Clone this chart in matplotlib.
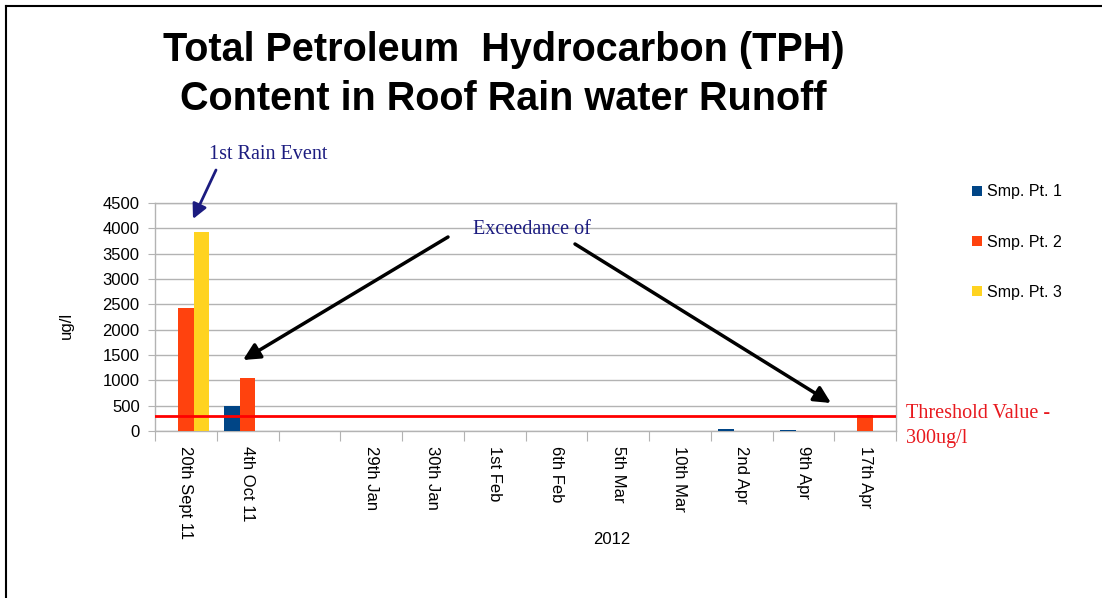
import numpy as np
import matplotlib
matplotlib.use("Agg")
import matplotlib.pyplot as plt
from matplotlib.patches import Patch
from matplotlib.lines import Line2D

# ---- data -------------------------------------------------------------
dates = ["20th Sept 11", "4th Oct 11", "", "29th Jan", "30th Jan", "1st Feb",
         "6th Feb", "5th Mar", "10th Mar", "2nd Apr", "9th Apr", "17th Apr"]
series_names = ["Smp. Pt. 1", "Smp. Pt. 2", "Smp. Pt. 3"]
smp_pt_1 = [0, 490, 0, 0, 0, 0, 0, 0, 0, 45, 25, 0]
smp_pt_2 = [2420, 1045, 0, 0, 0, 0, 0, 0, 0, 0, 0, 315]
smp_pt_3 = [3930, 0, 0, 0, 0, 0, 0, 0, 0, 0, 0, 0]
threshold = 300
y_ticks = list(range(0, 5000, 500))

colors = ["#004586", "#ff420e", "#ffd320"]

W, H = 1102, 598
plt.rcParams["font.family"] = ["Liberation Sans", "DejaVu Sans"]
fig = plt.figure(figsize=(W / 100, H / 100), dpi=100)
fig.patch.set_facecolor("white")


def fxy(x, y):
    """Pixel position (from top-left) to figure fraction."""
    return (x / W, 1 - y / H)


ax = fig.add_axes([155 / W, 1 - 431 / H, 741 / W, 228 / H])

x = np.arange(len(dates))
bw = 0.254
for i, (vals, name) in enumerate(zip([smp_pt_1, smp_pt_2, smp_pt_3], series_names)):
    ax.bar(x + (i - 1) * bw, vals, width=bw, color=colors[i], label=name, zorder=3)

ax.axhline(threshold, color="#ff0000", lw=2, zorder=4)

ax.set_xlim(-0.5, len(dates) - 0.5)
ax.set_ylim(0, 4500)
ax.set_yticks(y_ticks)
ax.set_yticklabels([str(v) for v in y_ticks], fontsize=12)
ax.yaxis.grid(True, color="#b3b3b3", lw=1, zorder=0)
ax.tick_params(axis="y", length=5, color="#b3b3b3", pad=6)

# category boundaries as ticks, labels at the centres
ax.set_xticks(np.arange(len(dates) + 1) - 0.5)
ax.set_xticklabels([])
ax.tick_params(axis="x", which="major", length=7, color="#b3b3b3")
ax.set_xticks(x, minor=True)
ax.set_xticklabels(dates, minor=True, rotation=-90, fontsize=12, va="top")
ax.tick_params(axis="x", which="minor", length=0, pad=11)

for s in ax.spines.values():
    s.set_color("#b3b3b3")
    s.set_linewidth(1)

fig.text(*fxy(66, 325), "ug/l", rotation=90, fontsize=12, ha="center", va="center")
fig.text(*fxy(612, 540), "2012", fontsize=12, ha="center", va="center")

# title
fig.text(*fxy(504, 50), "Total Petroleum  Hydrocarbon (TPH)", fontsize=28.5,
         fontweight="bold", ha="center", va="center")
fig.text(*fxy(503, 99), "Content in Roof Rain water Runoff", fontsize=28.5,
         fontweight="bold", ha="center", va="center")

# legend
handles = [Patch(facecolor=c, edgecolor="none") for c in colors]
fig.legend(handles, series_names, loc="center left", bbox_to_anchor=fxy(958, 242),
           frameon=False, fontsize=11.5, handlelength=0.6, handleheight=0.6,
           handletextpad=0.3, labelspacing=2.2)

# annotations
navy = "#1c1c80"
fig.text(*fxy(209, 155), "1st Rain Event", family="Liberation Serif", fontsize=14.5,
         color=navy, ha="left", va="center")
ax.annotate("", xy=fxy(193, 219), xytext=fxy(216, 170), xycoords="figure fraction",
            textcoords="figure fraction",
            arrowprops=dict(arrowstyle="-|>", color=navy, lw=2, mutation_scale=22,
                            shrinkA=0, shrinkB=0), annotation_clip=False)

fig.text(*fxy(473, 229), "Exceedance of", family="Liberation Serif", fontsize=14.5,
         color=navy, ha="left", va="center")
for start, tip in [((448, 237), (243, 360)), ((575, 244), (831, 403))]:
    ax.annotate("", xy=fxy(*tip), xytext=fxy(*start), xycoords="figure fraction",
                textcoords="figure fraction",
                arrowprops=dict(arrowstyle="-|>", color="black", lw=2.5,
                                mutation_scale=25, shrinkA=0, shrinkB=0),
                annotation_clip=False)

fig.text(*fxy(906, 414), "Threshold Value -", family="Liberation Serif", fontsize=14.5,
         color="#e8191e", ha="left", va="center")
fig.text(*fxy(906, 439), "300ug/l", family="Liberation Serif", fontsize=14.5,
         color="#e8191e", ha="left", va="center")

# outer frame (top and left edges)
fig.add_artist(Line2D([6 / W, 1], [1 - 6 / H, 1 - 6 / H], transform=fig.transFigure,
                      color="black", lw=1.5))
fig.add_artist(Line2D([6 / W, 6 / W], [0, 1 - 6 / H], transform=fig.transFigure,
                      color="black", lw=1.5))

fig.savefig("out.png", dpi=100, facecolor="white")
